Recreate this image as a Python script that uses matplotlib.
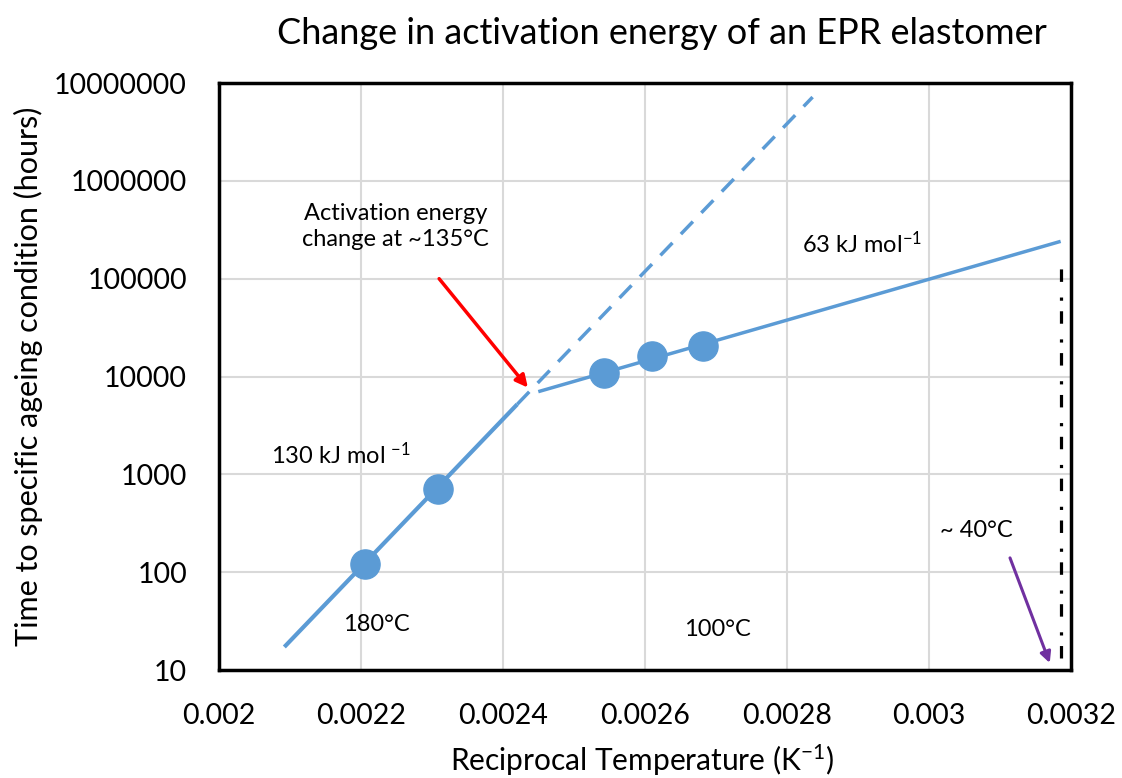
import matplotlib
matplotlib.use('Agg')
import matplotlib.pyplot as plt
from matplotlib.ticker import FixedLocator, FixedFormatter

plt.rcParams['font.family'] = ['Lato', 'DejaVu Sans']
plt.rcParams['mathtext.fontset'] = 'custom'
plt.rcParams['mathtext.rm'] = 'Lato'
plt.rcParams['mathtext.default'] = 'regular'

# ageing data: reciprocal temperature (1/K) vs time (h)
inv_temp = [0.002206, 0.002308, 0.002542, 0.002610, 0.002682]
ageing_time = [122, 702, 10870, 16200, 20560]

# high-temperature fit (130 kJ/mol), solid part and dashed extrapolation
high_fit_x = [0.002092, 0.002420]
high_fit_y = [17.2, 5200]
high_ext_x = [0.002420, 0.002836]
high_ext_y = [5200, 7.18e6]

# low-temperature fit (63 kJ/mol)
low_fit_x = [0.002452, 0.003183]
low_fit_y = [7080, 238000]

# service temperature marker (~40 C)
service_x = 0.003186
service_y = [13.3, 149000]

x_ticks = [0.002, 0.0022, 0.0024, 0.0026, 0.0028, 0.003, 0.0032]
x_labels = ['0.002', '0.0022', '0.0024', '0.0026', '0.0028', '0.003', '0.0032']
y_ticks = [10, 100, 1000, 10000, 100000, 1000000, 10000000]
y_labels = ['10', '100', '1000', '10000', '100000', '1000000', '10000000']

blue = '#5B9BD5'

fig = plt.figure(figsize=(11.22, 7.78), dpi=100)
ax = fig.add_axes([0.1952, 0.1388, 0.7594, 0.7545])

ax.plot(high_fit_x, high_fit_y, color=blue, lw=3, solid_capstyle='butt')
ax.plot(high_ext_x, high_ext_y, color=blue, lw=2.5, ls=(0, (5, 3.5)))
ax.plot(low_fit_x, low_fit_y, color=blue, lw=2.5)
ax.plot(inv_temp, ageing_time, 'o', color=blue, markersize=21, zorder=5)
ax.plot([service_x, service_x], service_y, color='black', lw=2.3,
        ls=(0, (3.9, 3.3, 1, 4.9)))

ax.set_yscale('log')
ax.set_xlim(0.002, 0.0032)
ax.set_ylim(10, 1e7)
ax.xaxis.set_major_locator(FixedLocator(x_ticks))
ax.xaxis.set_major_formatter(FixedFormatter(x_labels))
ax.yaxis.set_major_locator(FixedLocator(y_ticks))
ax.yaxis.set_major_formatter(FixedFormatter(y_labels))
ax.yaxis.set_minor_locator(FixedLocator([]))
ax.tick_params(length=0, labelsize=20.5)
ax.tick_params(axis='y', pad=23)
ax.tick_params(axis='x', pad=24)
ax.grid(True, color='#d9d9d9', lw=1.5)
ax.set_axisbelow(True)
for s in ax.spines.values():
    s.set_linewidth(2.5)
    s.set_color('black')

fig.text(662 / 1122, 1 - 33 / 778, 'Change in activation energy of an EPR elastomer',
         fontsize=26, ha='center', va='center')
ax.set_xlabel('Reciprocal Temperature (K$^{-1}$)', fontsize=21.5, va='center')
ax.xaxis.set_label_coords(0.497, -0.153)
ax.set_ylabel('Time to specific ageing condition (hours)', fontsize=22, va='center')
ax.yaxis.set_label_coords(-0.224, 0.5)

# annotations
ann = dict(fontsize=17, ha='center', va='center')
ax.text(0.002249, 341000, 'Activation energy\nchange at ~135°C', linespacing=1.25, **ann)
ax.text(0.002172, 1600, '130 kJ mol $^{-1}$', **ann)
ax.text(0.002221, 29, '180°C', **ann)
ax.text(0.002702, 26, '100°C', **ann)
ax.text(0.002905, 229000, '63 kJ mol$^{-1}$', **ann)
ax.text(0.003067, 268, '~ 40°C', **ann)

ax.annotate('', xy=(0.002435, 7700), xytext=(0.002310, 100000),
            arrowprops=dict(arrowstyle='-|>', color='red', lw=2.5,
                            mutation_scale=18, shrinkA=0, shrinkB=0))
ax.annotate('', xy=(0.003170, 11.8), xytext=(0.003114, 140),
            arrowprops=dict(arrowstyle='-|>', color='#7030A0', lw=2.2,
                            mutation_scale=16, shrinkA=0, shrinkB=0))

fig.savefig('out.png', dpi=100)
